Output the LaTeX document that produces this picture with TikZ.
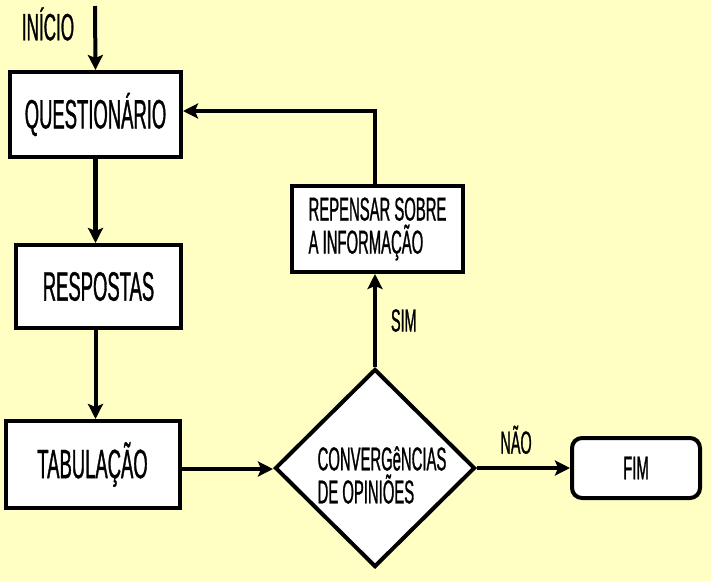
\documentclass[tikz,border=0pt]{standalone}
\usepackage{fontspec}
\newfontfamily\cond{Liberation Sans}[FakeStretch=0.45,FakeBold=0.8]
\usetikzlibrary{arrows.meta,shapes.geometric}
\definecolor{bgyellow}{RGB}{255,255,196}
\begin{document}
\begin{tikzpicture}[x=1pt,y=-1pt,
  box/.style={draw=black,line width=4pt,fill=white,minimum width=#1,inner sep=0pt,align=center},
  big/.style={font=\cond\fontsize{41}{41}\selectfont},
  small/.style={font=\cond\fontsize{33}{33}\selectfont},
  lbl/.style={font=\cond\fontsize{32}{32}\selectfont,inner sep=0pt},
  conn/.style={line width=4pt,-{Stealth[length=15pt,width=15pt,inset=3pt]}}]
\fill[bgyellow] (0,0) rectangle (711,581);
\useasboundingbox (0,0) rectangle (711,581);
\node[lbl,font=\cond\fontsize{38}{38}\selectfont,anchor=center] (inicio) at (48,24) {INÍCIO};
\coordinate (start) at (95,6);
\node[box=171pt,minimum height=85pt,big] (quest) at (95.5,114.5) {QUESTIONÁRIO};
\node[box=165pt,minimum height=83pt,big] (resp) at (98.5,286.5) {RESPOSTAS};
\node[box=174pt,minimum height=87pt,big] (tab) at (92.5,464.5) {TABULAÇÃO};
\node[box=171pt,minimum height=86pt,small,align=left] (rep) at (377.5,229) {REPENSAR SOBRE\\A INFORMAÇÃO};
\node[diamond,draw=black,line width=4pt,fill=white,minimum width=200pt,minimum height=198pt,inner sep=0pt] (conv) at (375,468) {};
\node[small,align=left,inner sep=0pt] (convtxt) at (382,475) {CONVERGêNCIAS\\DE OPINIÕES};
\node[draw=black,line width=4pt,fill=white,rounded corners=10pt,minimum width=128pt,minimum height=60pt,inner sep=0pt,lbl,font=\cond\fontsize{33}{33}\selectfont] (fim) at (636,468) {FIM};
\draw[conn] (start) -- (quest.north);
\draw[conn,line width=5pt] (quest.south) -- (resp.north -| quest.south);
\draw[conn] (resp.south -| quest.south) -- (tab.north -| quest.south);
\draw[conn] (tab.east |- 0,469) -- (conv.west |- 0,469);
\draw[conn] (conv.north) -- node[lbl,right=14pt,pos=0.5] (sim) {SIM} (rep.south -| conv.north);
\draw[conn] (rep.north -| conv.north) -- ++(0,-73) coordinate (turn) -- (quest.east |- turn);
\draw[conn] (conv.east) -- node[lbl,above=12pt,pos=0.42] (nao) {NÃO} (fim.west);
\end{tikzpicture}
\end{document}
